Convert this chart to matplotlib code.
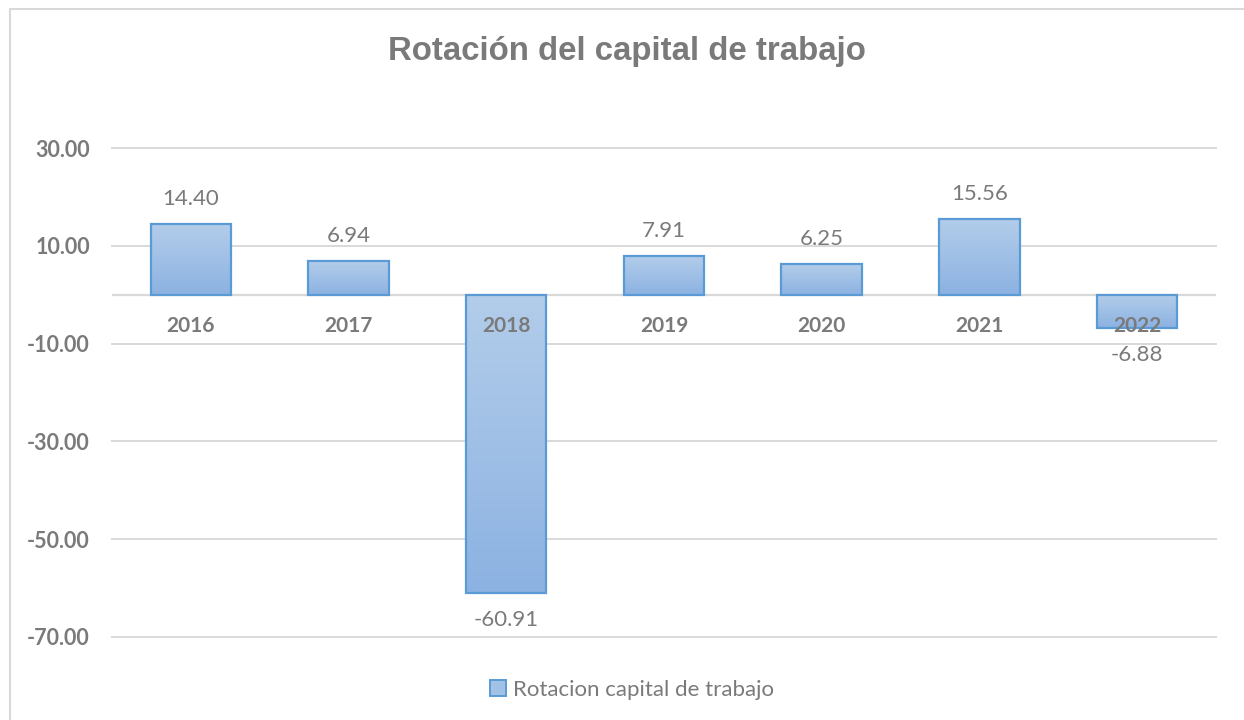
import numpy as np
import matplotlib
matplotlib.use('Agg')
import matplotlib.pyplot as plt
from matplotlib.patches import Rectangle
from matplotlib.colors import LinearSegmentedColormap

years = ['2016', '2017', '2018', '2019', '2020', '2021', '2022']
values = [14.40, 6.94, -60.91, 7.91, 6.25, 15.56, -6.88]
y_ticks = [-70, -50, -30, -10, 10, 30]
series_name = 'Rotacion capital de trabajo'
chart_title = 'Rotación del capital de trabajo'

plt.rcParams['font.family'] = ['Lato', 'DejaVu Sans']
text_gray = '#7a7a7a'
edge_blue = '#5b9bd5'
grid_gray = '#d9d9d9'

fig = plt.figure(figsize=(12.44, 7.2), dpi=100)
ax = fig.add_axes([0.090, 0.1153, 0.8875, 0.6791])

x = np.arange(len(years))
bars = ax.bar(x, values, width=0.51, color='none', edgecolor=edge_blue,
              linewidth=1.6, zorder=3)

# gradient fill inside each bar (light at top, darker at bottom)
grad = np.linspace(0, 1, 256).reshape(-1, 1)
cmap = LinearSegmentedColormap.from_list('bar_grad', ['#b3cdea', '#8cb2e2'])
for b in bars:
    x0, w = b.get_x(), b.get_width()
    y0, h = b.get_y(), b.get_height()
    top, bot = max(y0, y0 + h), min(y0, y0 + h)
    im = ax.imshow(grad, cmap=cmap, extent=[x0, x0 + w, bot, top],
                   aspect='auto', origin='upper', zorder=2)
    im.set_clip_path(b)

ax.set_xlim(-0.5, 6.5)
ax.set_ylim(-70, 30)

# grid + zero line
ax.set_yticks(y_ticks)
ax.set_yticklabels([f'{v:.2f}' for v in y_ticks], fontsize=15.5,
                   fontweight='bold', color=text_gray)
ax.yaxis.grid(True, color=grid_gray, linewidth=1.4, zorder=0)
for gl in ax.get_ygridlines():
    gl.set_clip_on(False)
ax.axhline(0, color=grid_gray, linewidth=1.6, zorder=1)
ax.tick_params(axis='y', length=0, pad=16)
ax.set_xticks([])
for s in ax.spines.values():
    s.set_visible(False)

# category labels next to the zero line
for i, yr in enumerate(years):
    ax.annotate(yr, xy=(i, 0), xytext=(0, -31), textcoords='offset pixels',
                ha='center', va='center', fontsize=15, fontweight='bold',
                color=text_gray, zorder=5)

# data labels
for i, v in enumerate(values):
    off = 25 if v >= 0 else -27
    ax.annotate(f'{v:.2f}', xy=(i, v), xytext=(0, off), textcoords='offset pixels',
                ha='center', va='center', fontsize=16, color=text_gray, zorder=5)

fig.text(0.504, 1 - 60 / 720, chart_title, ha='center', va='baseline', fontsize=23.8,
         fontweight='bold', color='#7a7a7a', family=['Liberation Sans', 'DejaVu Sans'])

handle = Rectangle((0, 0), 1, 1, facecolor='#a2c1e6', edgecolor=edge_blue, linewidth=1.4)
fig.legend([handle], [series_name], loc='center', bbox_to_anchor=(0.508, 0.042),
           frameon=False, fontsize=16, labelcolor=text_gray, handlelength=0.75,
           handleheight=0.75, handletextpad=0.3)

# chart area border
border = Rectangle((10 / 1244, -0.05), 1.1, 1 - 9 / 720 + 0.05, transform=fig.transFigure,
                   fill=False, edgecolor=grid_gray, linewidth=1.5, clip_on=False)
fig.patches.append(border)

fig.savefig('out.png', dpi=100)
